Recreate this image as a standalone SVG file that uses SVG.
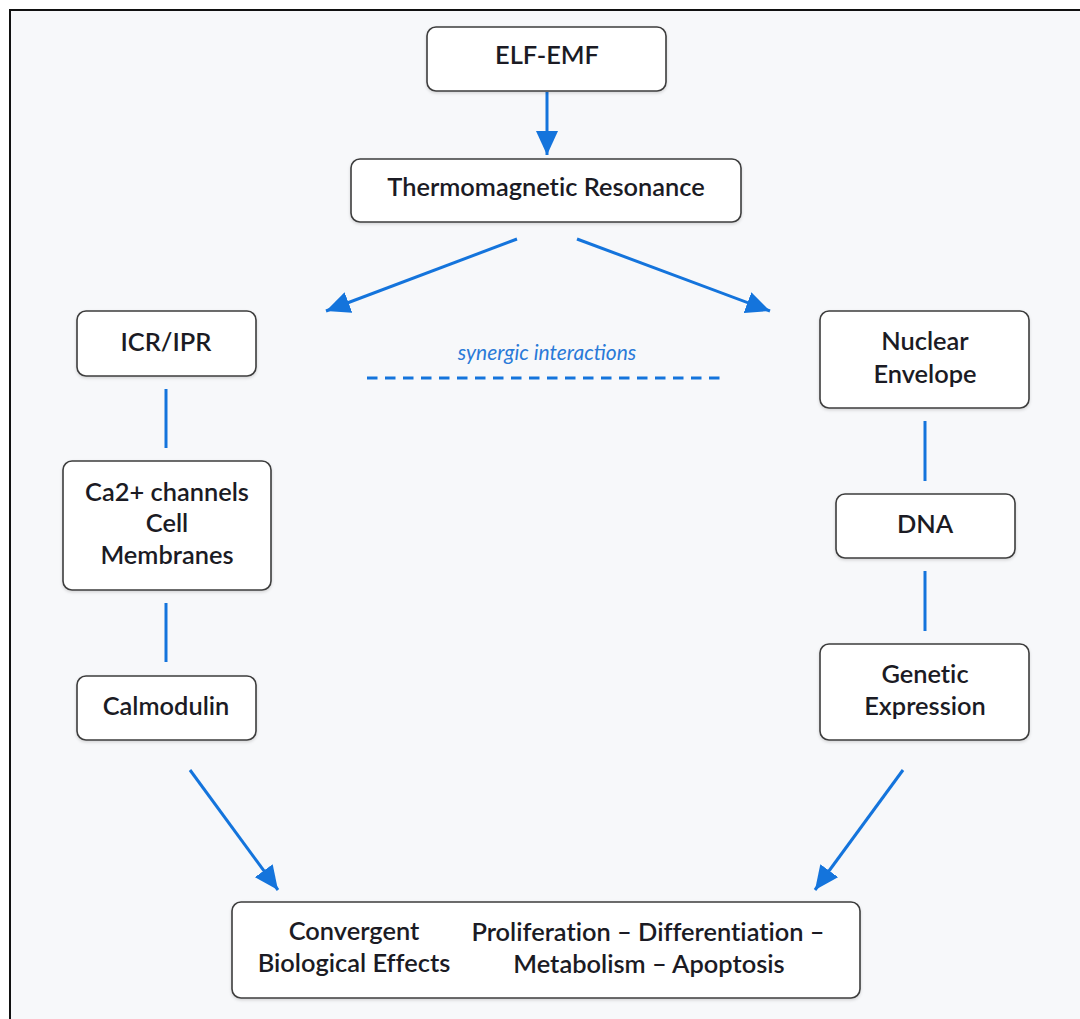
<svg xmlns="http://www.w3.org/2000/svg" width="1080" height="1019" viewBox="0 0 1080 1019">
<defs>
<style>
.box{fill:#ffffff;stroke:#3d3d3d;stroke-width:1.6}
.t{font-family:Lato,"Open Sans","Liberation Sans",sans-serif;font-size:25.4px;fill:#1b1b24;text-anchor:middle;font-weight:600;font-variant-ligatures:none}
.c{stroke:#1474dc;stroke-width:3;fill:none}
.a{marker-end:url(#ah)}
</style>
<marker id="ah" markerUnits="userSpaceOnUse" markerWidth="26" markerHeight="22" refX="24" refY="11" orient="auto">
<path d="M0,0 L24,11 L0,22 Z" fill="#1474dc"/>
</marker>
<filter id="sh" x="-10%" y="-10%" width="120%" height="130%">
<feDropShadow dx="0" dy="1.5" stdDeviation="1.5" flood-color="#000" flood-opacity="0.15"/>
</filter>
</defs>
<rect x="0" y="0" width="1080" height="1019" fill="#ffffff"/>
<rect x="10" y="10" width="1090" height="1030" fill="#f7f8fa" stroke="#111" stroke-width="2"/>

<g id="connectors">
<line class="c a" x1="547" y1="92" x2="547" y2="155"/>
<line class="c a" x1="517" y1="239" x2="326" y2="311"/>
<line class="c a" x1="577" y1="239" x2="770" y2="311"/>
<line class="c" x1="166" y1="389" x2="166" y2="448"/>
<line class="c" x1="166" y1="603" x2="166" y2="662"/>
<line class="c" x1="925" y1="421" x2="925" y2="481"/>
<line class="c" x1="925" y1="571" x2="925" y2="631"/>
<line class="c a" x1="190" y1="770" x2="278" y2="890"/>
<line class="c a" x1="903" y1="770" x2="815" y2="890"/>
<line x1="367" y1="378" x2="722" y2="378" stroke="#1474dc" stroke-width="3" stroke-dasharray="10.5,7.5"/>
<text x="547" y="360" font-family="Lato,'Open Sans','Liberation Sans',sans-serif" font-size="21" font-style="italic" fill="#2a7ad8" text-anchor="middle">synergic interactions</text>
</g>

<g id="elf-emf">
<rect class="box" x="427" y="27" width="239" height="64" rx="9" filter="url(#sh)"/>
<text class="t" x="547" y="64">ELF-EMF</text>
</g>
<g id="thermomagnetic">
<rect class="box" x="351" y="159" width="390" height="63" rx="9" filter="url(#sh)"/>
<text class="t" x="546" y="196">Thermomagnetic Resonance</text>
</g>
<g id="icr-ipr">
<rect class="box" x="77" y="311" width="179" height="65" rx="9" filter="url(#sh)"/>
<text class="t" x="166" y="351">ICR/IPR</text>
</g>
<g id="ca-channels">
<rect class="box" x="63" y="461" width="208" height="129" rx="9" filter="url(#sh)"/>
<text class="t" x="167" y="501">Ca2+ channels</text>
<text class="t" x="167" y="532">Cell</text>
<text class="t" x="167" y="564">Membranes</text>
</g>
<g id="calmodulin">
<rect class="box" x="77" y="676" width="179" height="64" rx="9" filter="url(#sh)"/>
<text class="t" x="166" y="715">Calmodulin</text>
</g>
<g id="nuclear-envelope">
<rect class="box" x="820" y="311" width="209" height="97" rx="9" filter="url(#sh)"/>
<text class="t" x="925" y="350">Nuclear</text>
<text class="t" x="925" y="383">Envelope</text>
</g>
<g id="dna">
<rect class="box" x="836" y="494" width="179" height="64" rx="9" filter="url(#sh)"/>
<text class="t" x="925" y="533">DNA</text>
</g>
<g id="genetic-expression">
<rect class="box" x="820" y="644" width="209" height="96" rx="9" filter="url(#sh)"/>
<text class="t" x="925" y="683">Genetic</text>
<text class="t" x="925" y="715">Expression</text>
</g>
<g id="convergent-effects">
<rect class="box" x="232" y="902" width="628" height="96" rx="9" filter="url(#sh)"/>
<text class="t" x="354" y="940">Convergent</text>
<text class="t" x="354" y="972">Biological Effects</text>
<text class="t" x="648" y="941">Proliferation – Differentiation –</text>
<text class="t" x="649" y="973">Metabolism – Apoptosis</text>
</g>
</svg>
